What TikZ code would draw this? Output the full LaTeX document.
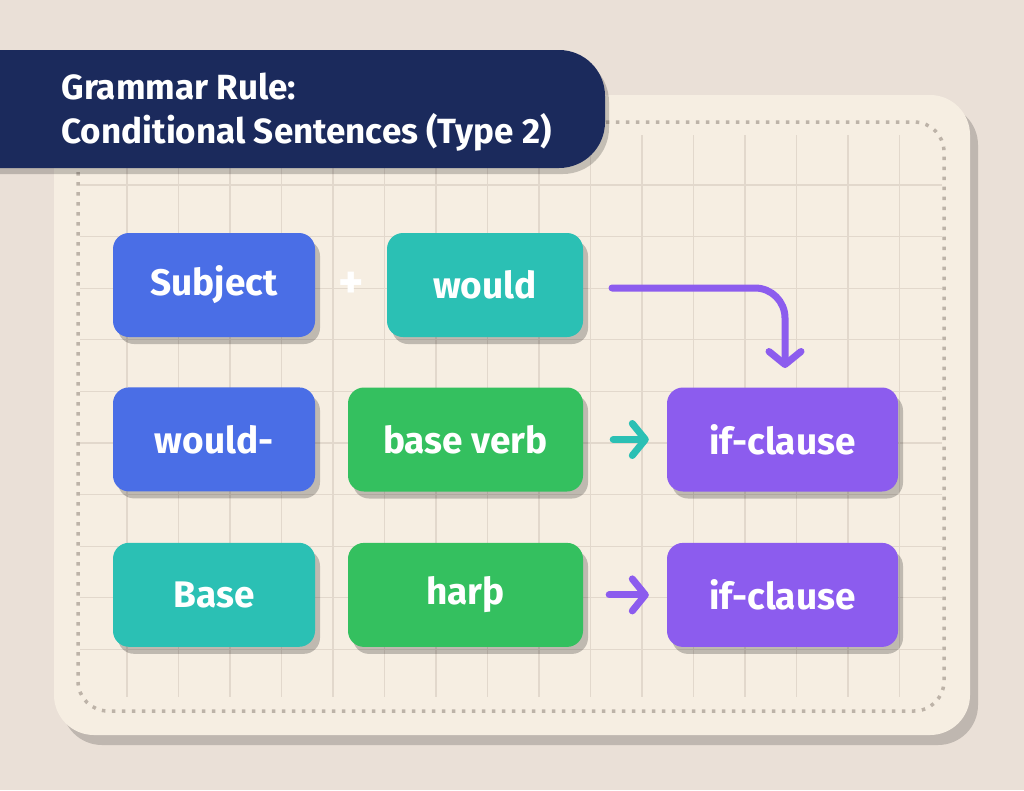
\documentclass[tikz,border=0pt]{standalone}
\usepackage{fontspec}
\setmainfont{Fira Sans}
\usetikzlibrary{positioning,shadows,arrows.meta}

\definecolor{paper}{HTML}{EAE0D7}
\definecolor{board}{HTML}{F6EEE2}
\definecolor{gridline}{HTML}{E2D8CC}
\definecolor{dotline}{HTML}{BDB3A8}
\definecolor{navy}{HTML}{1B2A5C}
\definecolor{boxblue}{HTML}{4A6EE6}
\definecolor{boxteal}{HTML}{2BC0B4}
\definecolor{boxgreen}{HTML}{34C05F}
\definecolor{boxpurple}{HTML}{8C5CEE}

\begin{document}
\begin{tikzpicture}[x=1pt, y=-1pt,
    box/.style={rounded corners=16pt, minimum height=104pt, text=white,
        font=\fontsize{37}{37}\selectfont\bfseries,
        drop shadow={shadow xshift=5pt, shadow yshift=-7pt, opacity=0.22, fill=black}},
    flow/.style={line width=7pt, line cap=round,
        -{Straight Barb[length=13pt, width=32pt, round]}}]
    \useasboundingbox (0,0) rectangle (1024,790);
    \fill[paper] (0,0) rectangle (1024,790);
    % board
    \fill[board, rounded corners=40pt,
        drop shadow={shadow xshift=8pt, shadow yshift=-10pt, opacity=0.18, fill=black}]
        (54,95) rectangle (970,735);
    \foreach \x in {127,178.5,...,900}
        \draw[gridline, line width=1.2pt] (\x,135) -- (\x,697);
    \foreach \y in {185,236.6,...,700}
        \draw[gridline, line width=1.2pt] (80,\y) -- (942,\y);
    \draw[dotline, line width=3.5pt, dash pattern=on 3.5pt off 6.5pt, rounded corners=30pt]
        (78,122) rectangle (944,711);
    % title banner
    \fill[navy, rounded corners=46pt,
        drop shadow={shadow xshift=4pt, shadow yshift=-6pt, opacity=0.2, fill=black}]
        (-60,50) rectangle (605,168);
    \node[anchor=west, align=left, text=white, font=\fontsize{35}{44}\selectfont\bfseries]
        (title) at (58,112) {Grammar Rule:\\Conditional Sentences (Type 2)};
    % boxes
    \node[box, fill=boxblue, minimum width=202pt] (subject) at (214,285) {Subject};
    \node[box, fill=boxteal, minimum width=196pt] (would) at (485,285) {would};
    \node[text=white, font=\fontsize{48}{48}\selectfont\bfseries] (plus) at (351,285) {+};
    \node[box, fill=boxblue, minimum width=202pt, below=50pt of subject] (wouldb) {would-};
    \node[box, fill=boxgreen, minimum width=235pt] (baseverb) at (465.5,439.5) {base verb};
    \node[box, fill=boxpurple, minimum width=231pt] (ifa) at (782.5,439.5) {if-clause};
    \node[box, fill=boxteal, minimum width=202pt, below=51pt of wouldb] (base) {Base};
    \node[box, fill=boxgreen, minimum width=235pt, below=51pt of baseverb] (harp) {harþ};
    \node[box, fill=boxpurple, minimum width=231pt, below=51pt of ifa] (ifb) {if-clause};
    % arrows
    \coordinate (bendstart) at (612,288);
    \coordinate (bendend) at (785,368);
    \draw[flow, boxpurple, rounded corners=30pt] (bendstart) -| (bendend);
    \path[flow, draw=boxteal] ([xshift=30pt]baseverb.east) -- ([xshift=-18pt]ifa.west);
    \path[flow, draw=boxpurple] ([xshift=26pt]harp.east) -- ([xshift=-18pt]ifb.west);
\end{tikzpicture}
\end{document}
